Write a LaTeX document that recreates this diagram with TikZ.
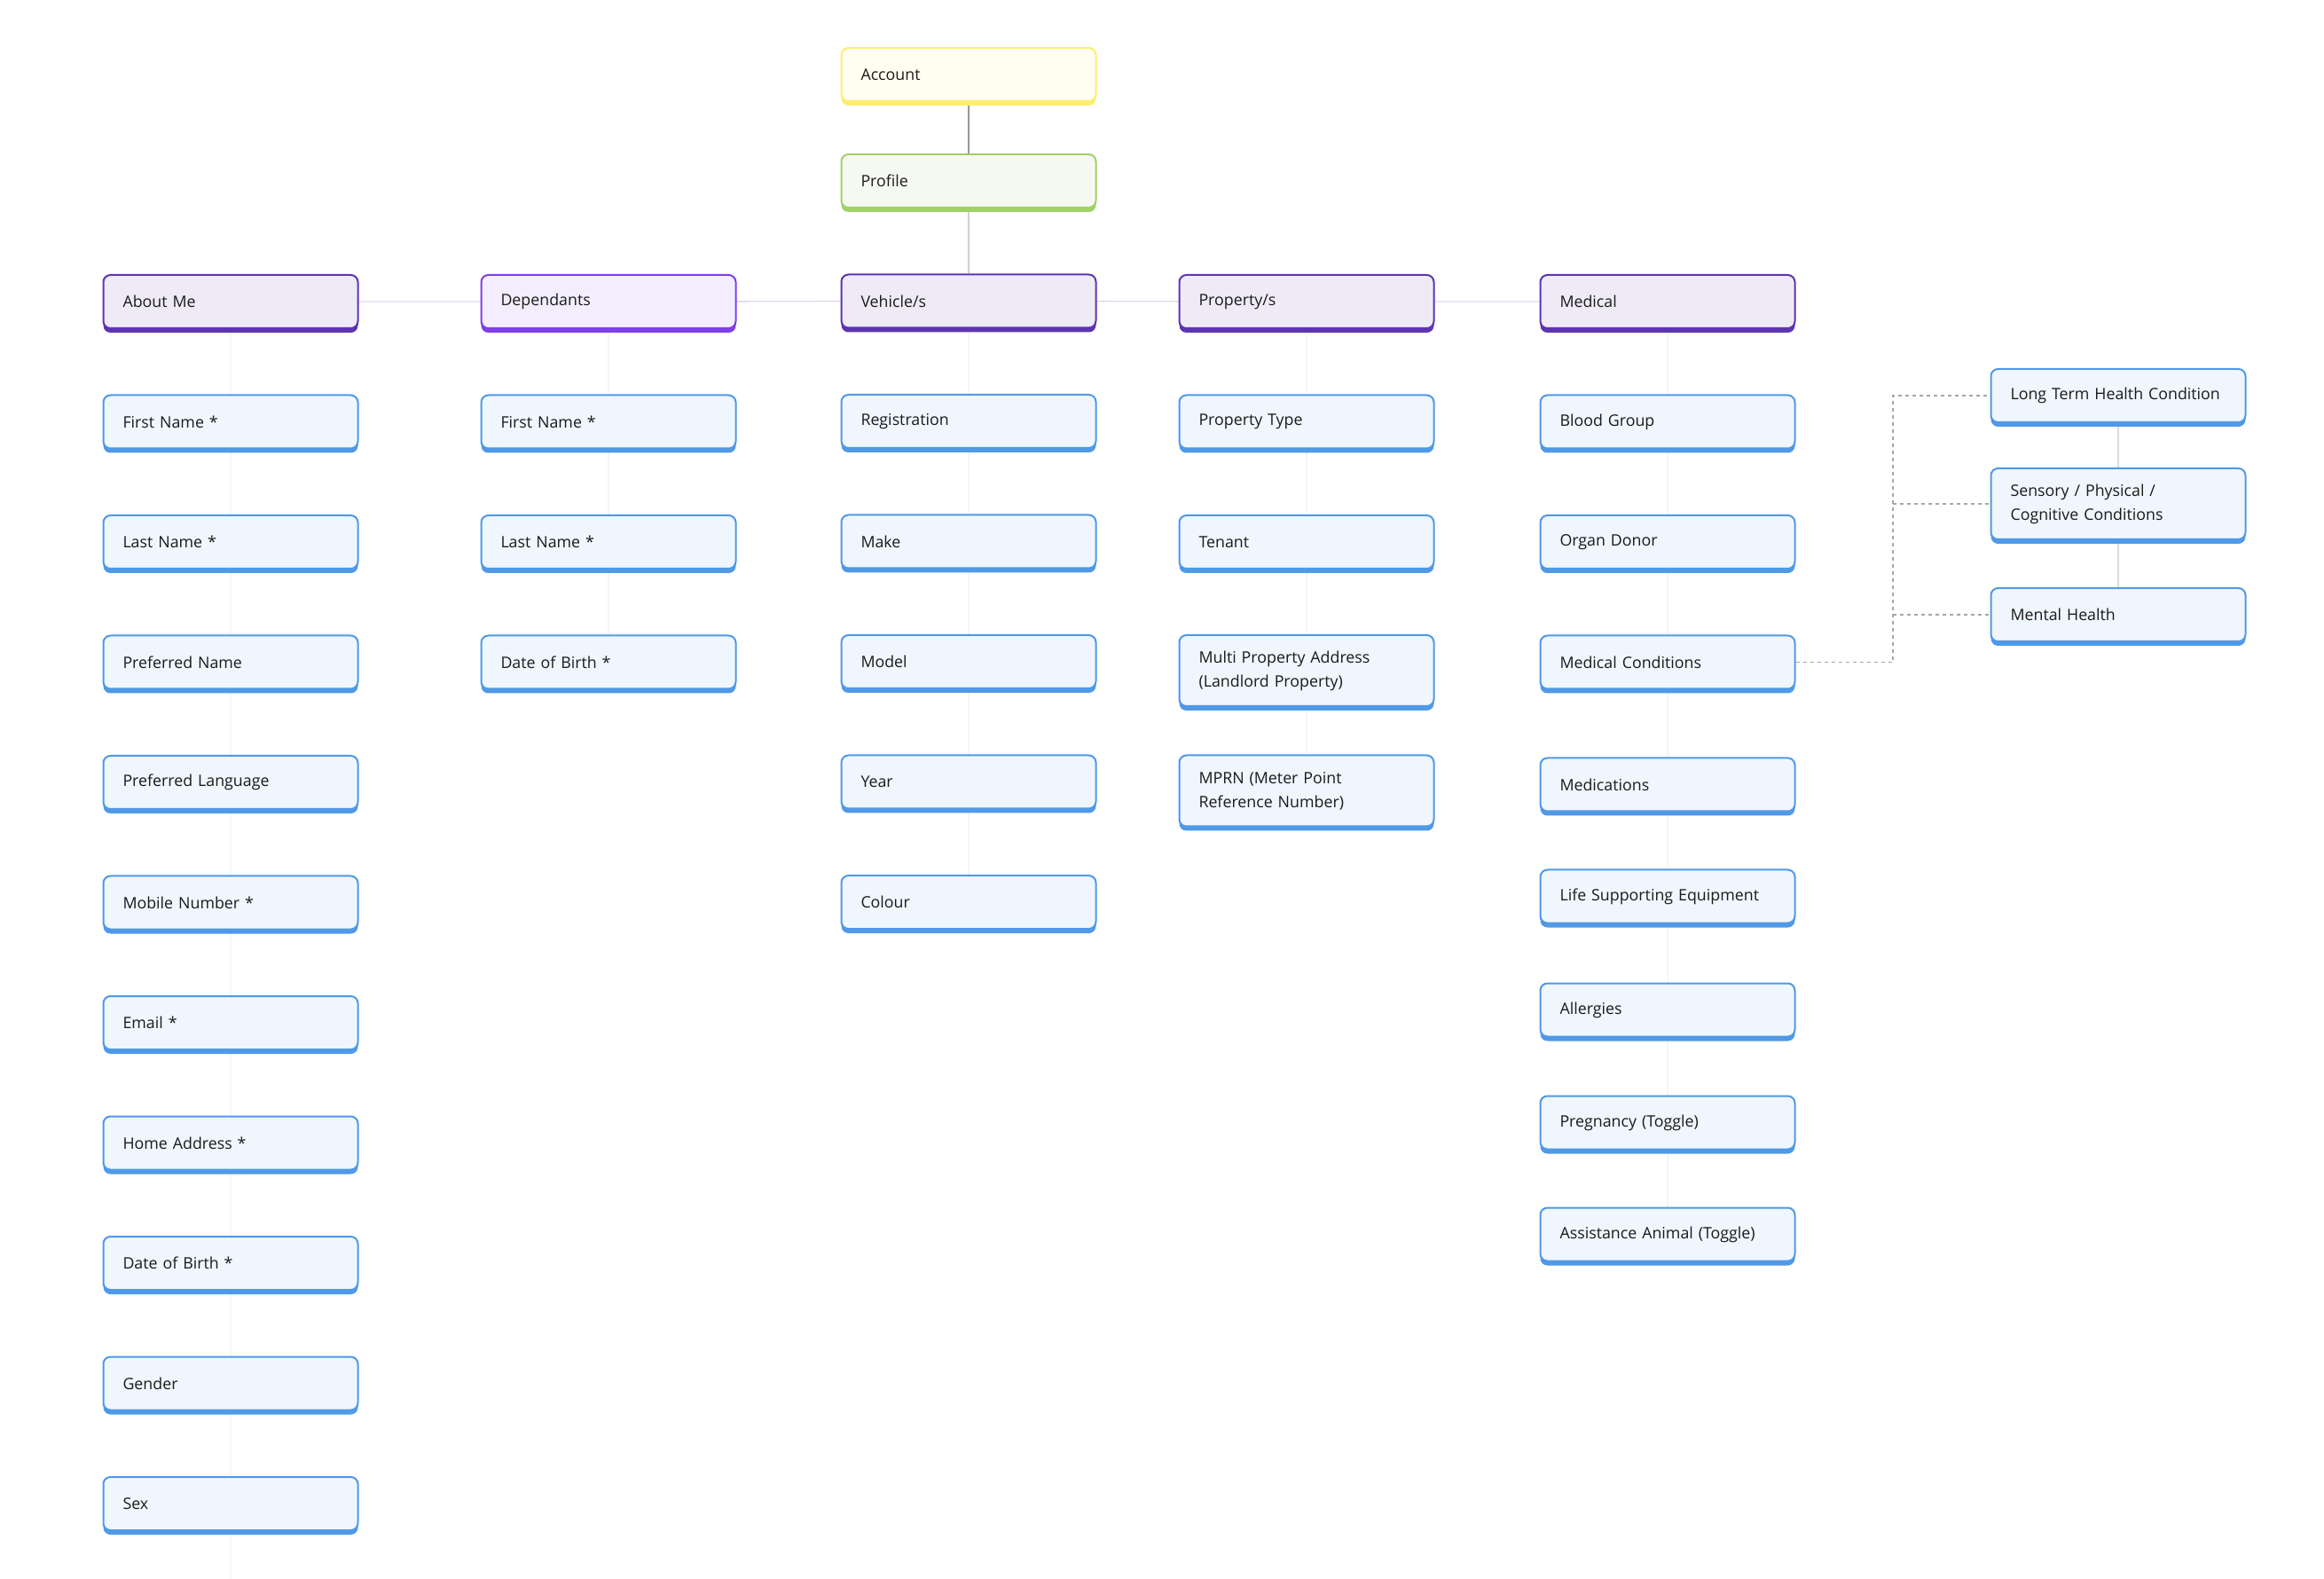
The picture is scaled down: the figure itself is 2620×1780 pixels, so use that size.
\documentclass[tikz,border=0pt]{standalone}
\usepackage{fontspec}
\setmainfont{Open Sans}
\usepackage{tikz}
\usetikzlibrary{shadows, backgrounds}
\usepackage{xcolor}
\definecolor{accountedge}{HTML}{FDEE70}
\definecolor{accountfill}{HTML}{FFFEF0}
\definecolor{profileedge}{HTML}{A0D068}
\definecolor{profilefill}{HTML}{F6F9F1}
\definecolor{sectionedge}{HTML}{5E35B1}
\definecolor{sectionfill}{HTML}{EFEBF6}
\definecolor{dependedge}{HTML}{7E40E6}
\definecolor{dependfill}{HTML}{F3EEFD}
\definecolor{fieldedge}{HTML}{5099E6}
\definecolor{fieldfill}{HTML}{EFF6FD}
\definecolor{textdark}{HTML}{1A1A1A}
\tikzstyle{box} = [rectangle, rounded corners=4pt, minimum width=143.5pt, minimum height=30pt, text width=121.5pt, inner xsep=11pt, inner ysep=4pt, align=left, line width=1pt, text=textdark, font=\fontsize{8.9}{13.5}\selectfont]
\tikzstyle{accountbox} = [box, draw=accountedge, fill=accountfill, drop shadow={shadow xshift=0pt, shadow yshift=-2.5pt, fill=accountedge, opacity=1}]
\tikzstyle{profilebox} = [box, draw=profileedge, fill=profilefill, drop shadow={shadow xshift=0pt, shadow yshift=-2.5pt, fill=profileedge, opacity=1}]
\tikzstyle{section} = [box, draw=sectionedge, fill=sectionfill, drop shadow={shadow xshift=0pt, shadow yshift=-2.5pt, fill=sectionedge, opacity=1}]
\tikzstyle{sectionalt} = [box, draw=dependedge, fill=dependfill, drop shadow={shadow xshift=0pt, shadow yshift=-2.5pt, fill=dependedge, opacity=1}]
\tikzstyle{field} = [box, draw=fieldedge, fill=fieldfill, drop shadow={shadow xshift=0pt, shadow yshift=-2.5pt, fill=fieldedge, opacity=1}]
\tikzstyle{tall} = [minimum height=40pt]
\tikzstyle{link} = [line width=0.8pt, draw=black!40]
\tikzstyle{softlink} = [line width=0.8pt, draw=black!18]
\tikzstyle{headlink} = [line width=0.7pt, draw=sectionedge!20]
\tikzstyle{fieldlink} = [line width=0.7pt, draw=fieldedge!9]
\tikzstyle{sublink} = [line width=0.7pt, draw=black!15]
\tikzstyle{dashlink} = [line width=0.6pt, draw=black!35, dash pattern=on 2pt off 2pt]

\begin{document}
\begin{tikzpicture}[x=0.5pt, y=-0.5pt, node distance=67.75pt]
\useasboundingbox (0,0) rectangle (2620,1780);

% top of the tree
\node (account) [accountbox] at (1092,84) {Account};
\node (profile) [profilebox, below of=account, yshift=7.75pt] {Profile};
\node (vehicles) [section, below of=profile] {Vehicle/s};

% section headers
\node (aboutme) [section] at (260,340) {About Me};
\node (dependants) [sectionalt] at (686,340) {Dependants};
\node (properties) [section] at (1473,340) {Property/s};
\node (medical) [section] at (1880,340) {Medical};

% about me
\node (amfirst) [field, below of=aboutme] {First Name *};
\node (amlast) [field, below of=amfirst] {Last Name *};
\node (ampref) [field, below of=amlast] {Preferred Name};
\node (amlang) [field, below of=ampref] {Preferred Language};
\node (ammobile) [field, below of=amlang] {Mobile Number *};
\node (amemail) [field, below of=ammobile] {Email *};
\node (amhome) [field, below of=amemail] {Home Address *};
\node (amdob) [field, below of=amhome] {Date of Birth *};
\node (amgender) [field, below of=amdob] {Gender};
\node (amsex) [field, below of=amgender] {Sex};
\coordinate (amend) at (260,1780);

% dependants
\node (dpfirst) [field, below of=dependants] {First Name *};
\node (dplast) [field, below of=dpfirst] {Last Name *};
\node (dpdob) [field, below of=dplast] {Date of Birth *};

% vehicles
\node (vhreg) [field, below of=vehicles] {Registration};
\node (vhmake) [field, below of=vhreg] {Make};
\node (vhmodel) [field, below of=vhmake] {Model};
\node (vhyear) [field, below of=vhmodel] {Year};
\node (vhcolour) [field, below of=vhyear] {Colour};

% properties
\node (prtype) [field, below of=properties] {Property Type};
\node (prtenant) [field, below of=prtype] {Tenant};
\node (prmulti) [field, tall, below of=prtenant, yshift=-4.75pt] {Multi Property Address\\(Landlord Property)};
\node (prmprn) [field, tall, below of=prmulti] {MPRN (Meter Point\\Reference Number)};

% medical
\node (mdblood) [field, below of=medical] {Blood Group};
\node (mddonor) [field, below of=mdblood] {Organ Donor};
\node (mdcond) [field, below of=mddonor] {Medical Conditions};
\node (mdmeds) [field, below of=mdcond, yshift=-1.25pt] {Medications};
\node (mdlife) [field, below of=mdmeds, yshift=4.75pt] {Life Supporting Equipment};
\node (mdallergy) [field, below of=mdlife, yshift=3.75pt] {Allergies};
\node (mdpreg) [field, below of=mdallergy, yshift=4.25pt] {Pregnancy (Toggle)};
\node (mdanimal) [field, below of=mdpreg, yshift=4.75pt] {Assistance Animal (Toggle)};

% medical conditions detail
\node (longterm) [field] at (2388,446) {Long Term Health Condition};
\node (sensory) [field, tall, below of=longterm, yshift=6.75pt] {Sensory / Physical /\\Cognitive Conditions};
\node (mental) [field, below of=sensory, yshift=5.25pt] {Mental Health};
\coordinate (bus) at (2134,448);

\begin{scope}[on background layer]
\draw [link] (account) -- (profile);
\draw [softlink] (profile) -- (vehicles);
\draw [headlink] (aboutme) -- (dependants) -- (vehicles) -- (properties) -- (medical);
\draw [fieldlink] (aboutme) -- (amfirst) -- (amlast) -- (ampref) -- (amlang) -- (ammobile) -- (amemail) -- (amhome) -- (amdob) -- (amgender) -- (amsex) -- (amend);
\draw [fieldlink] (dependants) -- (dpfirst) -- (dplast) -- (dpdob);
\draw [fieldlink] (vehicles) -- (vhreg) -- (vhmake) -- (vhmodel) -- (vhyear) -- (vhcolour);
\draw [fieldlink] (properties) -- (prtype) -- (prtenant) -- (prmulti) -- (prmprn);
\draw [fieldlink] (medical) -- (mdblood) -- (mddonor) -- (mdcond) -- (mdmeds) -- (mdlife) -- (mdallergy) -- (mdpreg) -- (mdanimal);
\draw [sublink] (longterm) -- (sensory) -- (mental);
\draw [dashlink] (mdcond.east) -| (bus |- longterm.west) -- (longterm.west);
\draw [dashlink] (bus |- sensory.west) -- (sensory.west);
\draw [dashlink] (bus |- mental.west) -- (mental.west);
\end{scope}

\end{tikzpicture}
\end{document}
